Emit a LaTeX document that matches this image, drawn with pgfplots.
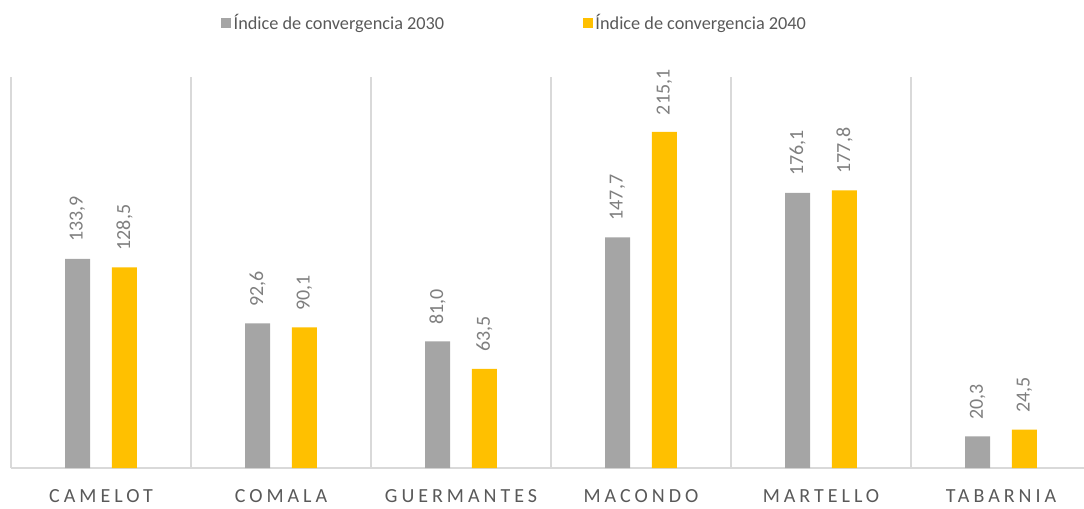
\documentclass[border=0pt]{standalone}
\usepackage{pgfplots}
\pgfplotsset{compat=1.18}
\usepackage{fontspec}
\setmainfont{Carlito}
\newfontfamily\spaced[LetterSpace=20]{Carlito}
\definecolor{bargray}{HTML}{A5A5A5}
\definecolor{bargold}{HTML}{FFC000}
\definecolor{gridgray}{HTML}{D9D9D9}
\definecolor{txtgray}{HTML}{595959}
\definecolor{lblgray}{HTML}{7F7F7F}
\begin{document}
\begin{tikzpicture}
\begin{axis}[
  at={(8.25pt,30pt)}, anchor=south west,
  scale only axis, width=810pt, height=292.9pt,
  xmin=-0.5, xmax=5.5, ymin=0, ymax=250,
  clip=false,
  ybar=16.45pt, bar width=18.75pt,
  axis x line=bottom, axis y line=none,
  x axis line style={-, draw=gridgray, line width=1.2pt},
  xtick={0,...,5},
  xticklabels={CAMELOT,COMALA,GUERMANTES,MACONDO,MARTELLO,TABARNIA},
  xticklabel style={anchor=center, yshift=-21pt, font=\spaced\fontsize{15}{18}\selectfont, text=txtgray},
  major tick length=0pt, minor tick length=0pt,
  minor xtick={-0.5,0.5,...,5.5},
  xminorgrids=true,
  minor grid style={draw=gridgray, line width=1.2pt},
  nodes near coords,
  /pgf/number format/.cd, fixed, fixed zerofill, precision=1, use comma, assume math mode=true,
  /pgfplots/.cd,
  nodes near coords style={rotate=90, anchor=west, inner xsep=12.5pt, inner ysep=0pt, font=\fontsize{15}{18}\selectfont, text=lblgray},
  legend style={draw=none, fill=none, at={(0.4665,1.1407)}, anchor=center,
    legend columns=2, font=\fontsize{13.7}{16}\selectfont, text=txtgray,
    /tikz/every even column/.append style={column sep=102pt},
    nodes={inner sep=2pt}},
  legend cell align=left,
]
\addplot[fill=bargray, draw=none,
  legend image code/.code={\fill[bargray] (0pt,-3.75pt) rectangle (7.5pt,3.75pt);}]
  coordinates {(0,133.9) (1,92.6) (2,81.0) (3,147.7) (4,176.1) (5,20.3)};
\addlegendentry{Índice de convergencia 2030}
\addplot[fill=bargold, draw=none,
  legend image code/.code={\fill[bargold] (0pt,-3.75pt) rectangle (7.5pt,3.75pt);}]
  coordinates {(0,128.5) (1,90.1) (2,63.5) (3,215.1) (4,177.8) (5,24.5)};
\addlegendentry{Índice de convergencia 2040}
\end{axis}
\pgfresetboundingbox
\useasboundingbox (0,0) rectangle (813pt,381pt);
\end{tikzpicture}
\end{document}
